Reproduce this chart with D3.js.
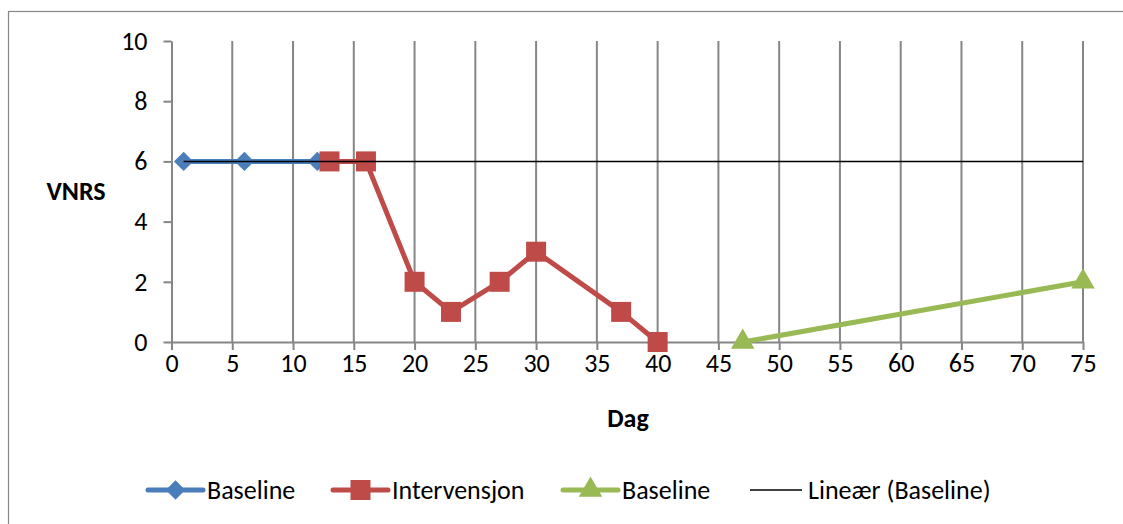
<!DOCTYPE html>
<html><head><meta charset="utf-8">
<script src="https://cdn.jsdelivr.net/npm/d3@7"></script>
<style>body{margin:0;background:#fff}svg{display:block}text{font-family:Carlito,Lato,"Open Sans",sans-serif}</style>
</head><body>
<script>
const baselineDays = [1, 6, 12];
const baselineVals = [6, 6, 6];
const interventionDays = [13, 16, 20, 23, 27, 30, 37, 40];
const interventionVals = [6, 6, 2, 1, 2, 3, 1, 0];
const baseline2Days = [47, 75];
const baseline2Vals = [0, 2];
const trendDays = [1, 75];
const trendVals = [6, 6];
const xTicks = [0,5,10,15,20,25,30,35,40,45,50,55,60,65,70,75];
const yTicks = [0,2,4,6,8,10];
const legendLabels = ["Baseline", "Intervensjon", "Baseline", "Lineær (Baseline)"];

const W = 1123, H = 524, FS = 26;
const svg = d3.select("body").append("svg").attr("width", W).attr("height", H);
svg.append("rect").attr("x", 8.5).attr("y", 11.5).attr("width", 1130).attr("height", 530)
  .attr("fill", "#fff").attr("stroke", "#868686").attr("stroke-width", 1.2);

const x = d3.scaleLinear().domain([0, 75]).range([171.5, 1083]);
const y = d3.scaleLinear().domain([0, 10]).range([342, 41]);
const grey = "#868686";

svg.append("g").selectAll("line").data(xTicks.filter(d => d > 0)).join("line")
  .attr("x1", d => x(d)).attr("x2", d => x(d)).attr("y1", y(10)).attr("y2", y(0))
  .attr("stroke", grey).attr("stroke-width", 2);

const xAxis = svg.append("g").attr("transform", `translate(0,${y(0)})`)
  .call(d3.axisBottom(x).tickValues(xTicks).tickSize(8).tickPadding(4).tickSizeOuter(0));
const yAxis = svg.append("g").attr("transform", `translate(${x(0)},0)`)
  .call(d3.axisLeft(y).tickValues(yTicks).tickSize(8).tickPadding(16).tickSizeOuter(0));
[xAxis, yAxis].forEach(g => {
  g.attr("font-size", FS).attr("font-family", null);
  g.select(".domain").attr("stroke", grey).attr("stroke-width", 2);
  g.selectAll(".tick line").attr("stroke", grey).attr("stroke-width", 2);
  g.selectAll("text").attr("fill", "#000");
});
xAxis.selectAll("text").attr("dy", "0.71em");

svg.append("text").attr("x", 76).attr("y", 200).attr("text-anchor", "middle")
  .attr("font-size", FS).attr("font-weight", "bold").text("VNRS");
svg.append("text").attr("x", 628).attr("y", 427).attr("text-anchor", "middle")
  .attr("font-size", FS).attr("font-weight", "bold").text("Dag");

const line = d3.line().x(d => x(d[0])).y(d => y(d[1]));
const zip = (a, b) => a.map((d, i) => [d, b[i]]);

const series = [
  {pts: zip(baselineDays, baselineVals), color: "#4A7EBB", sym: d3.symbolDiamond2, size: 240},
  {pts: zip(interventionDays, interventionVals), color: "#BE4B48", sym: d3.symbolSquare, size: 400},
  {pts: zip(baseline2Days, baseline2Vals), color: "#98B954", sym: d3.symbolTriangle, size: 240}
];

series.forEach(s => {
  svg.append("path").attr("d", line(s.pts)).attr("fill", "none")
    .attr("stroke", s.color).attr("stroke-width", 5).attr("stroke-linejoin", "round");
});
series.forEach(s => {
  svg.append("g").selectAll("path").data(s.pts).join("path")
    .attr("transform", d => `translate(${x(d[0])},${y(d[1])})`)
    .attr("d", d3.symbol().type(s.sym).size(s.size)).attr("fill", s.color);
});

svg.append("path").attr("d", line(zip(trendDays, trendVals))).attr("fill", "none")
  .attr("stroke", "#000").attr("stroke-width", 1.5);

const legX = [148, 333, 563, 750];
const ly = 490;
legendLabels.forEach((lab, i) => {
  const g = svg.append("g");
  if (i < 3) {
    const s = series[i];
    g.append("line").attr("x1", legX[i]).attr("x2", legX[i] + 55).attr("y1", ly).attr("y2", ly)
      .attr("stroke", s.color).attr("stroke-width", 5).attr("stroke-linecap", "round");
    g.append("path").attr("transform", `translate(${legX[i] + 27.5},${ly})`)
      .attr("d", d3.symbol().type(s.sym).size(s.size)).attr("fill", s.color);
    g.append("text").attr("x", legX[i] + 59).attr("y", ly).attr("dy", "0.35em")
      .attr("font-size", FS).text(lab);
  } else {
    g.append("line").attr("x1", legX[i]).attr("x2", legX[i] + 52).attr("y1", ly).attr("y2", ly)
      .attr("stroke", "#000").attr("stroke-width", 1.5);
    g.append("text").attr("x", legX[i] + 58).attr("y", ly).attr("dy", "0.35em")
      .attr("font-size", FS).text(lab);
  }
});
</script>
</body></html>
